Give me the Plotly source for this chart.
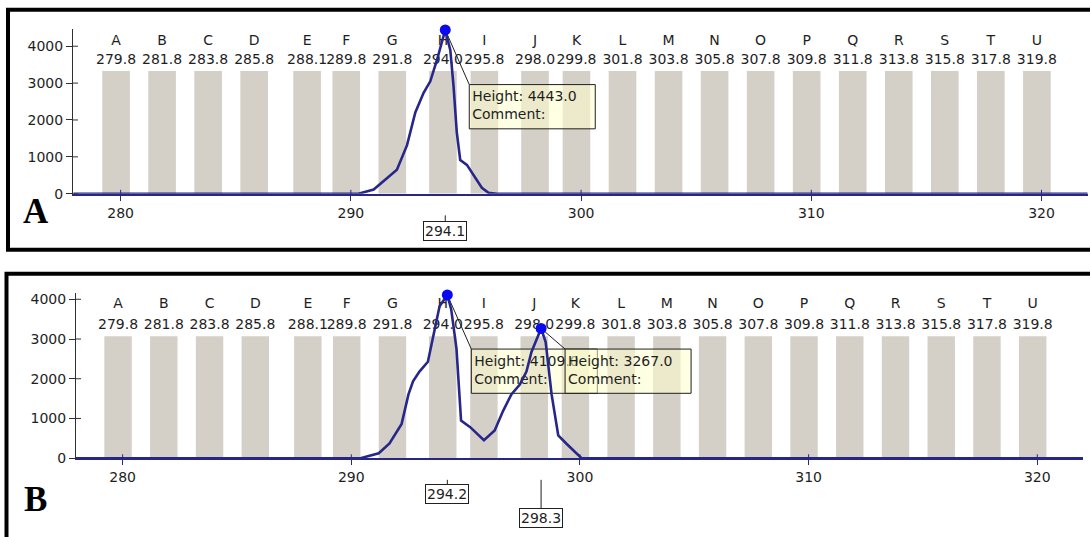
import plotly.graph_objects as go

# ---------------------------------------------------------------- data
bin_letters = ["A", "B", "C", "D", "E", "F", "G", "H", "I", "J", "K",
               "L", "M", "N", "O", "P", "Q", "R", "S", "T", "U"]
bin_sizes = [279.8, 281.8, 283.8, 285.8, 288.1, 289.8, 291.8, 294.0, 295.8,
             298.0, 299.8, 301.8, 303.8, 305.8, 307.8, 309.8, 311.8, 313.8,
             315.8, 317.8, 319.8]
bin_width = 1.2
bin_height_a = 3330
bin_height_b = 3070

# electropherogram trace, sample A (single allele)
trace_a_x = [277.95, 290.33, 290.99, 291.49, 292.0, 292.44, 292.8, 293.16,
             293.45, 293.74, 293.96, 294.1, 294.32, 294.46, 294.6, 294.75,
             295.04, 295.33, 295.69, 295.98, 296.34, 322.0]
trace_a_y = [0, 0, 115, 382, 649, 1316, 2204, 2738, 3049, 3627, 4160, 4443,
             3893, 2916, 1671, 916, 782, 516, 160, 27, 0, 0]

# electropherogram trace, sample B (two alleles)
trace_b_x = [277.96, 290.4, 291.2, 291.67, 292.2, 292.5, 292.7, 292.98,
             293.35, 293.57, 293.86, 294.2, 294.37, 294.6, 294.8, 295.2,
             295.8, 296.27, 296.64, 297.0, 297.37, 297.66, 297.88, 298.3,
             298.5, 298.76, 299.05, 299.4, 299.85, 300.07, 322.0]
trace_b_y = [0, 0, 123, 370, 864, 1605, 1934, 2181, 2428, 3004, 3827, 4109,
             3745, 2757, 946, 782, 453, 700, 1193, 1605, 1852, 2181, 2675,
             3267, 2922, 1605, 576, 370, 123, 0, 0]

peaks_a_size = [294.1]
peaks_a_height = [4443.0]
peaks_b_size = [294.2, 298.3]
peaks_b_height = [4109.0, 3267.0]

x_ticks = [280, 290, 300, 310, 320]
y_ticks = [0, 1000, 2000, 3000, 4000]

# ---------------------------------------------------------------- geometry
W, H = 1090, 537
FONT = "DejaVu Sans"
NAVY = "#27278a"
BIN_GRAY = "#d4d0c8"
TEXT = "#1e1e1e"

panels = [
    dict(name="A", xa="x", ya="y", xpx=(73, 1088), xr=(277.93, 322.02),
         y0px=196.0, ytop=28.75, yr=(0, 4460), letters_px=41, sizes_px=61,
         bin_h=bin_height_a, tx=trace_a_x, ty=trace_a_y,
         px_=peaks_a_size, ph=peaks_a_height, box_top=85,
         label_px=[233.5], frame=(8, 9, 253), tag_px=(36, 214)),
    dict(name="B", xa="x2", ya="y2", xpx=(76, 1083), xr=(277.96, 322.0),
         y0px=465.0, ytop=296.5, yr=(0, 4170), letters_px=309, sizes_px=330,
         bin_h=bin_height_b, tx=trace_b_x, ty=trace_b_y,
         px_=peaks_b_size, ph=peaks_b_height, box_top=354,
         label_px=[501.5, 525.5], frame=(6.5, 277.5, None), tag_px=(35, 507)),
]


def px_to_x(p, px):
    (a, b), (r0, r1) = p["xpx"], p["xr"]
    return r0 + (px - a) / (b - a) * (r1 - r0)


def x_to_px(p, x):
    (a, b), (r0, r1) = p["xpx"], p["xr"]
    return a + (x - r0) / (r1 - r0) * (b - a)


def px_to_y(p, py):
    r0, r1 = p["yr"]
    return r0 + (p["y0px"] - py) / (p["y0px"] - p["ytop"]) * (r1 - r0)


def y_to_px(p, y):
    r0, r1 = p["yr"]
    return p["y0px"] - (y - r0) / (r1 - r0) * (p["y0px"] - p["ytop"])


fig = go.Figure()
shapes = []
annotations = []
layout_axes = {}

BOX_W, BOX_H, BOX_DX = 126, 45, 24

for p in panels:
    xa, ya = p["xa"], p["ya"]
    ax_sfx = "" if xa == "x" else "2"

    # allele bins
    fig.add_trace(go.Bar(
        x=bin_sizes, y=[p["bin_h"]] * len(bin_sizes), width=bin_width,
        marker=dict(color=BIN_GRAY, line=dict(width=0)),
        xaxis=xa, yaxis=ya, hoverinfo="skip"))

    # bin names and bin sizes above the bins
    fig.add_trace(go.Scatter(
        x=bin_sizes, y=[px_to_y(p, p["letters_px"])] * len(bin_sizes),
        mode="text", text=bin_letters, textposition="middle center",
        textfont=dict(family=FONT, size=14, color=TEXT),
        xaxis=xa, yaxis=ya, hoverinfo="skip", cliponaxis=False))
    fig.add_trace(go.Scatter(
        x=bin_sizes, y=[px_to_y(p, p["sizes_px"])] * len(bin_sizes),
        mode="text", text=[f"{s:.1f}" for s in bin_sizes],
        textposition="middle center",
        textfont=dict(family=FONT, size=14, color=TEXT),
        xaxis=xa, yaxis=ya, hoverinfo="skip", cliponaxis=False))

    # peak callouts: leader line, translucent box and text
    for sx, h in zip(p["px_"], p["ph"]):
        pkx, pky = x_to_px(p, sx), y_to_px(p, h)
        bx0, by0 = pkx + BOX_DX, p["box_top"]
        bx1, by1 = bx0 + BOX_W, by0 + BOX_H
        fig.add_trace(go.Scatter(
            x=[sx, px_to_x(p, bx0)], y=[h, px_to_y(p, by0)],
            mode="lines", line=dict(color="#202020", width=1),
            xaxis=xa, yaxis=ya, hoverinfo="skip", cliponaxis=False))
        fig.add_trace(go.Scatter(
            x=[px_to_x(p, v) for v in (bx0, bx1, bx1, bx0, bx0)],
            y=[px_to_y(p, v) for v in (by0, by0, by1, by1, by0)],
            mode="lines", fill="toself",
            fillcolor="rgba(255,255,205,0.55)",
            line=dict(color="#202020", width=1),
            xaxis=xa, yaxis=ya, hoverinfo="skip"))
        fig.add_trace(go.Scatter(
            x=[px_to_x(p, bx0 + 3)], y=[px_to_y(p, (by0 + by1) / 2)],
            mode="text", text=[f"Height: {h:.1f}<br>Comment:"],
            textposition="middle right",
            textfont=dict(family=FONT, size=14, color=TEXT),
            xaxis=xa, yaxis=ya, hoverinfo="skip", cliponaxis=False))

    # trace and called peaks
    fig.add_trace(go.Scatter(
        x=p["tx"], y=p["ty"], mode="lines",
        line=dict(color=NAVY, width=2.6),
        xaxis=xa, yaxis=ya, hoverinfo="skip"))
    fig.add_trace(go.Scatter(
        x=p["px_"], y=p["ph"], mode="markers",
        marker=dict(color="#0a0af0", size=11),
        xaxis=xa, yaxis=ya, hoverinfo="skip", cliponaxis=False))

    # axes
    dom_x = [p["xpx"][0] / W, p["xpx"][1] / W]
    dom_y = [1 - p["y0px"] / H, 1 - p["ytop"] / H]
    layout_axes["xaxis" + ax_sfx] = dict(
        domain=dom_x, range=list(p["xr"]), anchor=ya,
        showgrid=False, zeroline=False, showline=True,
        linecolor=NAVY, linewidth=2,
        ticks="outside", ticklen=5, tickwidth=1, tickcolor=NAVY,
        tickvals=x_ticks, ticktext=[str(t) for t in x_ticks],
        tickfont=dict(family=FONT, size=14, color=TEXT), fixedrange=True)
    layout_axes["yaxis" + ax_sfx] = dict(
        domain=dom_y, range=list(p["yr"]), anchor=xa,
        showgrid=False, zeroline=False, showline=True,
        linecolor="#303030", linewidth=1,
        ticks="outside", ticklen=6, tickwidth=1, tickcolor="#303030",
        tickvals=y_ticks, ticktext=[str(t) for t in y_ticks],
        tickfont=dict(family=FONT, size=14, color=TEXT), fixedrange=True)

    # short inner halves of the tick marks
    plot_w = p["xpx"][1] - p["xpx"][0]
    plot_h = p["y0px"] - p["ytop"]
    for t in y_ticks:
        shapes.append(dict(type="line", xref=xa + " domain", yref=ya,
                           x0=0, x1=5 / plot_w, y0=t, y1=t,
                           line=dict(color="#303030", width=1)))
    for t in x_ticks:
        shapes.append(dict(type="line", xref=xa, yref=ya + " domain",
                           x0=t, x1=t, y0=0, y1=4 / plot_h,
                           line=dict(color=NAVY, width=1)))

    # boxed size labels under the axis
    for sx, lab_py in zip(p["px_"], p["label_px"]):
        shapes.append(dict(type="line", xref=xa, yref="paper",
                           x0=sx, x1=sx,
                           y0=1 - (p["y0px"] + 22) / H,
                           y1=1 - (lab_py - 9) / H,
                           line=dict(color="#202020", width=1)))
        annotations.append(dict(
            x=sx, y=1 - lab_py / H, xref=xa, yref="paper",
            text=f"{sx:.1f}", showarrow=False,
            xanchor="center", yanchor="middle",
            font=dict(family=FONT, size=14, color=TEXT),
            bgcolor="white", bordercolor="#202020", borderwidth=1,
            borderpad=1))

    # panel letter
    annotations.append(dict(
        x=p["tag_px"][0] / W, y=1 - p["tag_px"][1] / H,
        xref="paper", yref="paper", text=f"<b>{p['name']}</b>",
        showarrow=False, xanchor="center", yanchor="middle",
        font=dict(family="Liberation Serif", size=35, color="black")))

    # panel frame
    fx, ftop, fbot = p["frame"]
    shapes.append(dict(
        type="rect", xref="paper", yref="paper",
        x0=fx / W, x1=1.05, y1=1 - ftop / H,
        y0=(1 - fbot / H) if fbot is not None else -0.1,
        line=dict(color="black", width=4), fillcolor="rgba(0,0,0,0)",
        layer="above"))

fig.update_layout(
    width=W, height=H,
    margin=dict(l=0, r=0, t=0, b=0),
    paper_bgcolor="white", plot_bgcolor="rgba(0,0,0,0)",
    showlegend=False, barmode="overlay",
    shapes=shapes, annotations=annotations,
    **layout_axes)

fig.write_html("out.html", config={"displayModeBar": False})
